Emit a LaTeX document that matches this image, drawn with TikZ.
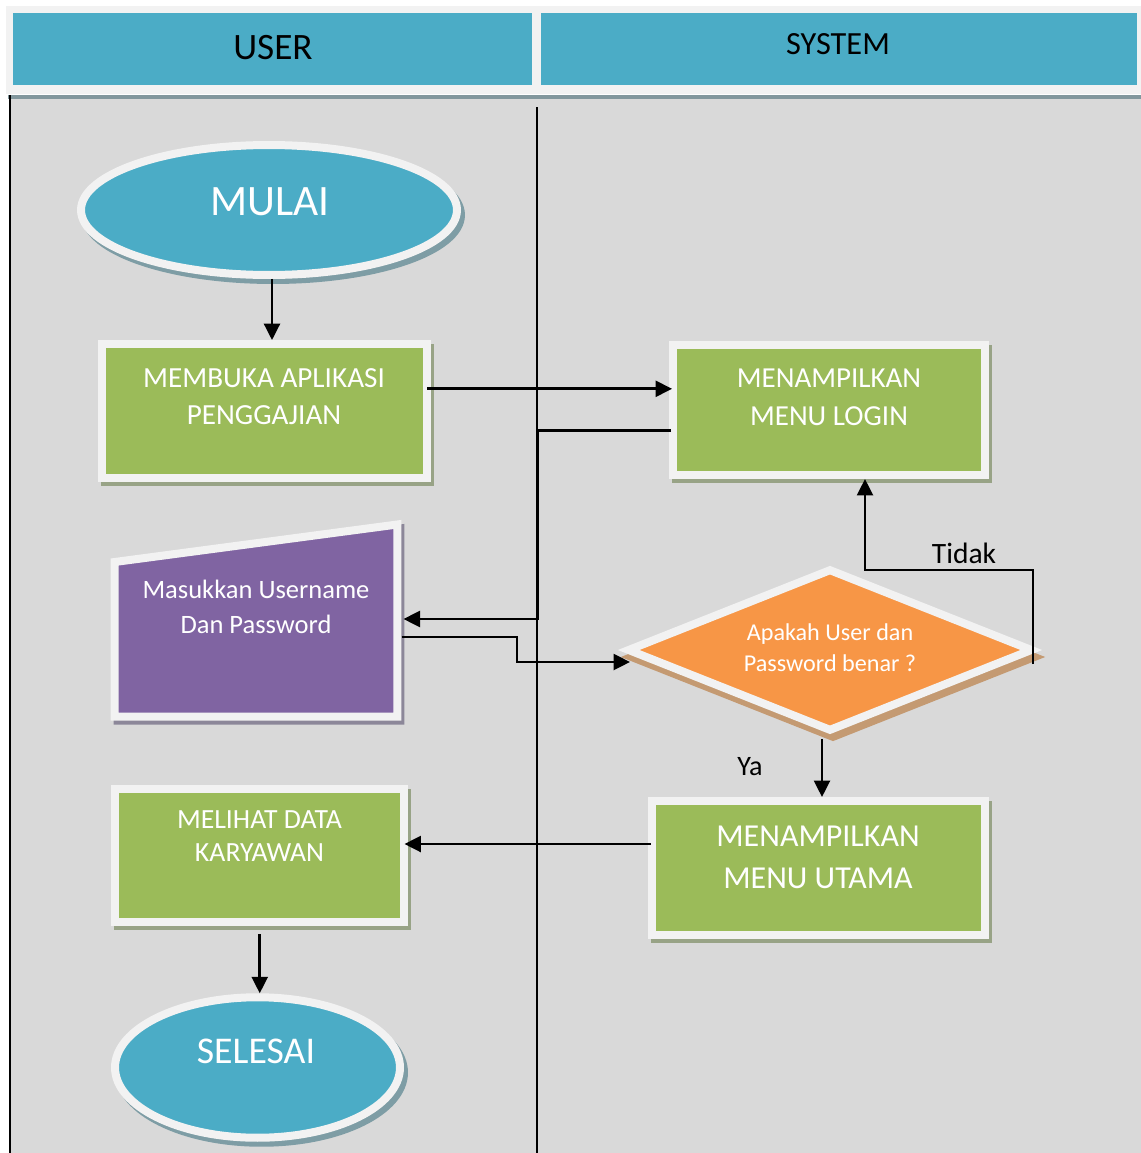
\documentclass[tikz,border=0pt]{standalone}
\usepackage{fontspec}
\setmainfont{Carlito}
\usetikzlibrary{shapes.geometric, shadows, calc, arrows.meta}

\definecolor{hdrblue}{HTML}{4BACC6}
\definecolor{procgreen}{HTML}{9BBB59}
\definecolor{inpurple}{HTML}{8064A2}
\definecolor{decorange}{HTML}{F79646}
\definecolor{lanegray}{HTML}{D9D9D9}
\definecolor{rimwhite}{HTML}{F2F2F2}
\definecolor{rulegray}{HTML}{82979D}
\definecolor{shgreen}{HTML}{98A386}
\definecolor{shblue}{HTML}{7E9DA5}
\definecolor{shpurple}{HTML}{8C8799}
\definecolor{shorange}{HTML}{C49A72}

\begin{document}
\begin{tikzpicture}[x=0.02cm, y=-0.02cm,
  rim/.style={draw=rimwhite, line width=0.16cm, inner sep=0pt, outer sep=0.08cm},
  shade/.style n args={3}{general shadow={fill=#1, draw=#1, line width=0.16cm,
      shadow xshift=#2, shadow yshift=#3}},
  proc/.style={rectangle, rim, fill=procgreen, shade={shgreen}{0.06cm}{-0.08cm}},
  term/.style={ellipse, rim, fill=hdrblue, shade={shblue}{0.08cm}{-0.1cm}},
  decide/.style={diamond, rim, fill=decorange, shade={shorange}{0.06cm}{-0.14cm}},
  lanehdr/.style={rectangle, fill=hdrblue, inner sep=0pt, minimum height=1.44cm},
  intext/.style={text=white, align=center, inner sep=0pt},
  plain/.style={text=black, align=center, inner sep=0pt},
  wire/.style={line width=1.5pt},
  arr/.style={wire, -{Triangle[length=0.33cm, width=0.32cm]}}]

\useasboundingbox (0,0) rectangle (1141,1153);

% page, header frame and swimlane backgrounds
\fill[white] (0,0) rectangle (1141,1153);
\fill[rimwhite] (6,6) rectangle (1141,94);
\fill[rulegray] (8,95) rectangle (1141,98.5);
\fill[lanegray] (10,98.5) rectangle (1141,1153);
\draw[line width=0.9pt] (10,95) -- (10,1153);
\draw[line width=0.9pt] (537,107) -- (537,1153);

% lane headers
\node[lanehdr, minimum width=10.38cm] (userhdr) at (272.5,49) {};
\node[lanehdr, minimum width=11.92cm] (syshdr) at (839,49) {};
\node[plain, font=\fontsize{21.2}{25}\selectfont] (usertxt) at (273,47.5) {USER};
\node[plain, font=\fontsize{18.4}{22}\selectfont] (systxt) at (838,43.7) {SYSTEM};

% flow shapes
\node[term, minimum width=7.52cm, minimum height=2.6cm] (start) at (269,210) {};
\node[proc, minimum width=6.52cm, minimum height=2.67cm] (open) at (264.5,410.8) {};
\node[proc, minimum width=6.24cm, minimum height=2.61cm] (login) at (829,409.75) {};
\filldraw[draw=rimwhite, fill=inpurple, line width=0.16cm,
  shade={shpurple}{0.06cm}{-0.08cm}]
  (114.7,716.7) -- (114.7,562) -- (397.3,524.5) -- (397.3,716.7) -- cycle;
\coordinate (inp-in) at (401.5,619);
\coordinate (inp-out) at (401.5,637);
\node[decide, minimum width=8.12cm, minimum height=3.26cm] (dec) at (830,650) {};
\node[proc, minimum width=6.67cm, minimum height=2.68cm] (utama) at (818.25,868) {};
\node[proc, minimum width=5.79cm, minimum height=2.67cm] (melihat) at (259.75,855.75) {};
\node[term, minimum width=5.7cm, minimum height=2.81cm] (finish) at (257.5,1067.5) {};

% shape texts
\node[intext, font=\fontsize{24.7}{29}\selectfont] (start-t) at (270,201.7) {MULAI};
\node[intext, font=\fontsize{16.6}{21}\selectfont] (open-t) at (264,396.5)
  {MEMBUKA APLIKASI\\PENGGAJIAN};
\node[intext, font=\fontsize{16.5}{21.5}\selectfont] (login-t) at (829,397)
  {MENAMPILKAN\\MENU LOGIN};
\node[intext, font=\fontsize{15.1}{19.8}\selectfont] (inp-t) at (256,606.5)
  {Masukkan Username\\Dan Password};
\node[intext, font=\fontsize{13.75}{17.6}\selectfont] (dec-t) at (830,647.5)
  {Apakah User dan\\Password benar ?};
\node[intext, font=\fontsize{18.2}{23.8}\selectfont] (utama-t) at (818,857)
  {MENAMPILKAN\\MENU UTAMA};
\node[intext, font=\fontsize{15.8}{18.7}\selectfont] (melihat-t) at (259.5,836.5)
  {MELIHAT DATA\\KARYAWAN};
\node[intext, font=\fontsize{21.5}{25}\selectfont] (finish-t) at (256,1051) {SELESAI};

% connectors
\coordinate (s1) at ($(start.south)+(3,0)$);
\draw[arr] (s1) -- (s1 |- open.north);

\coordinate (o1) at ($(open.east)+(-4,-22)$);
\draw[arr] (o1) -- ($(o1 -| login.west)+(3,0)$);

\coordinate (l1) at ($(login.west)+(2,21)$);
\draw[arr] (l1) -| ($(inp-in)+(136.5,0)$) -- ($(inp-in)+(2,0)$);

\draw[arr] (inp-out) -| ($(dec.center)+(-313,12)$) -- ($(dec.center)+(-200,12)$);

\coordinate (t0) at ($(dec.center)+(203,14)$);
\coordinate (t1) at ($(login.south)+(36,91)$);
\draw[arr] (t0) |- (t1) -- (t1 |- login.south);
\node[plain, font=\fontsize{16.8}{20}\selectfont] (tidak) at (964,553) {Tidak};

\coordinate (y0) at ($(dec.south)+(-8,4)$);
\draw[arr] (y0) -- (y0 |- utama.north);
\node[plain, font=\fontsize{16}{19}\selectfont] (ya) at (750,767) {Ya};

\coordinate (u1) at ($(utama.west)+(3,-24)$);
\draw[arr] (u1) -- ($(u1 -| melihat.east)+(-4,0)$);

\coordinate (m1) at ($(melihat.south)+(0,8)$);
\draw[arr] (m1) -- (m1 |- finish.north);

\end{tikzpicture}
\end{document}
